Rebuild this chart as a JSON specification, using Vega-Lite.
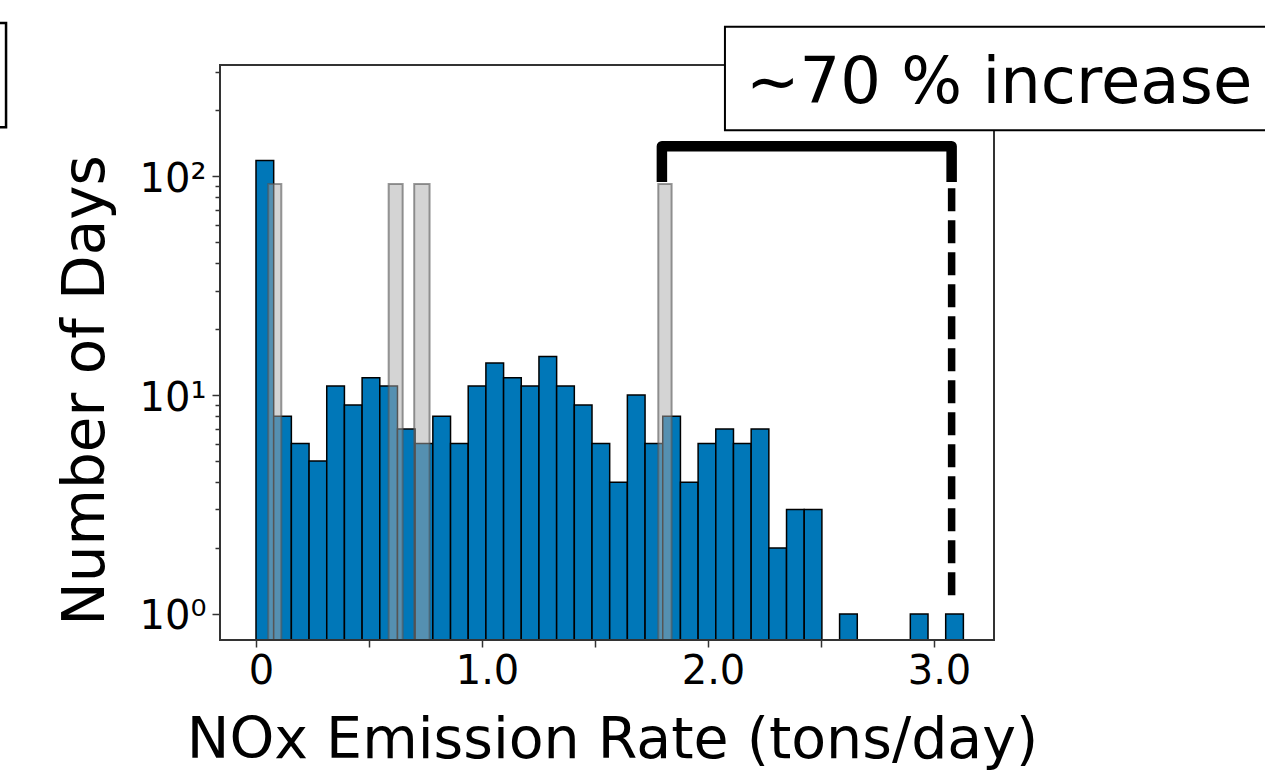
{
  "$schema": "https://vega.github.io/schema/vega-lite/v6.json",
  "width": 774,
  "height": 575,
  "autosize": {"type": "none"},
  "padding": {"left": 220, "top": 65, "right": 271, "bottom": 132},
  "background": "white",
  "config": {"view": {"stroke": null}, "font": "DejaVu Sans"},
  "datasets": {
    "current": [
      {"rate": 0.0, "rate2": 0.07825, "days": 118},
      {"rate": 0.07825, "rate2": 0.1565, "days": 8},
      {"rate": 0.1565, "rate2": 0.23475, "days": 6},
      {"rate": 0.23475, "rate2": 0.313, "days": 5},
      {"rate": 0.313, "rate2": 0.39125, "days": 11},
      {"rate": 0.39125, "rate2": 0.4695, "days": 9},
      {"rate": 0.4695, "rate2": 0.54775, "days": 12},
      {"rate": 0.54775, "rate2": 0.626, "days": 11},
      {"rate": 0.626, "rate2": 0.70425, "days": 7},
      {"rate": 0.70425, "rate2": 0.7825, "days": 6},
      {"rate": 0.7825, "rate2": 0.86075, "days": 8},
      {"rate": 0.86075, "rate2": 0.939, "days": 6},
      {"rate": 0.939, "rate2": 1.01725, "days": 11},
      {"rate": 1.01725, "rate2": 1.0955, "days": 14},
      {"rate": 1.0955, "rate2": 1.17375, "days": 12},
      {"rate": 1.17375, "rate2": 1.252, "days": 11},
      {"rate": 1.252, "rate2": 1.33025, "days": 15},
      {"rate": 1.33025, "rate2": 1.4085, "days": 11},
      {"rate": 1.4085, "rate2": 1.48675, "days": 9},
      {"rate": 1.48675, "rate2": 1.565, "days": 6},
      {"rate": 1.565, "rate2": 1.64325, "days": 4},
      {"rate": 1.64325, "rate2": 1.7215, "days": 10},
      {"rate": 1.7215, "rate2": 1.79975, "days": 6},
      {"rate": 1.79975, "rate2": 1.878, "days": 8},
      {"rate": 1.878, "rate2": 1.95625, "days": 4},
      {"rate": 1.95625, "rate2": 2.0345, "days": 6},
      {"rate": 2.0345, "rate2": 2.11275, "days": 7},
      {"rate": 2.11275, "rate2": 2.191, "days": 6},
      {"rate": 2.191, "rate2": 2.26925, "days": 7},
      {"rate": 2.26925, "rate2": 2.3475, "days": 2},
      {"rate": 2.3475, "rate2": 2.42575, "days": 3},
      {"rate": 2.42575, "rate2": 2.504, "days": 3},
      {"rate": 2.58225, "rate2": 2.6605, "days": 1},
      {"rate": 2.89525, "rate2": 2.9735, "days": 1},
      {"rate": 3.05175, "rate2": 3.13, "days": 1}
    ],
    "baseline": [
      {"rate": 0.054, "rate2": 0.112, "days": 92},
      {"rate": 0.587, "rate2": 0.649, "days": 92},
      {"rate": 0.700, "rate2": 0.768, "days": 92},
      {"rate": 1.780, "rate2": 1.839, "days": 92}
    ],
    "bracket": [
      {"rate": 1.796, "days": 94, "o": 0},
      {"rate": 1.796, "days": 137, "o": 1},
      {"rate": 3.078, "days": 137, "o": 2},
      {"rate": 3.078, "days": 94, "o": 3}
    ],
    "dash": [
      {"rate": 3.078, "days": 88, "o": 0},
      {"rate": 3.078, "days": 1.2, "o": 1}
    ]
  },
  "layer": [
    {
      "data": {"name": "current"},
      "mark": {"type": "bar", "fill": "#0077b8", "stroke": "black", "strokeWidth": 1.5, "clip": true},
      "encoding": {
        "x": {
          "field": "rate", "type": "quantitative",
          "scale": {"domain": [-0.1593, 3.2655], "nice": false, "zero": false},
          "axis": {
            "title": "NOx Emission Rate (tons/day)",
            "values": [0, 0.5, 1, 1.5, 2, 2.5, 3],
            "labelExpr": "datum.value == 0 ? '0' : (datum.value % 1 == 0 ? format(datum.value, '.1f') : '')",
            "domain": false, "grid": false,
            "tickSize": 7, "tickColor": "#333", "tickWidth": 1.5,
            "labelFont": "DejaVu Sans", "labelFontSize": 40, "labelColor": "black",
            "labelPadding": 4, "labelOffset": 5, "labelFlush": false, "labelOverlap": false,
            "titleFont": "DejaVu Sans", "titleFontSize": 57, "titleFontWeight": "normal", "titleColor": "black",
            "titleX": 392, "titleY": 117, "titleBaseline": "alphabetic", "titleAlign": "center"
          }
        },
        "x2": {"field": "rate2"},
        "y": {
          "field": "days", "type": "quantitative",
          "scale": {"type": "log", "domain": [0.76, 322], "nice": false},
          "axis": {
            "title": "Number of Days",
            "values": [1, 2, 3, 4, 5, 6, 7, 8, 9, 10, 20, 30, 40, 50, 60, 70, 80, 90, 100, 200, 300],
            "labelExpr": "datum.value == 1 ? '10⁰' : (datum.value == 10 ? '10¹' : (datum.value == 100 ? '10²' : ''))",
            "domain": false, "grid": false,
            "tickSize": {"condition": {"test": "datum.value == 1 || datum.value == 10 || datum.value == 100", "value": 8}, "value": 5},
            "tickColor": "#333", "tickWidth": 1.5,
            "labelFont": "DejaVu Sans", "labelFontSize": 40, "labelColor": "black",
            "labelPadding": 6, "labelOffset": 3, "labelFlush": false, "labelOverlap": false,
            "titleFont": "DejaVu Sans", "titleFontSize": 58, "titleFontWeight": "normal", "titleColor": "black",
            "titleX": -117, "titleY": 325, "titleBaseline": "alphabetic", "titleAlign": "center", "titleAngle": -90
          }
        },
        "y2": {"datum": 0.1}
      }
    },
    {
      "data": {"name": "baseline"},
      "mark": {"type": "bar", "fill": "#a9a9a9", "fillOpacity": 0.5, "stroke": "#555555", "strokeOpacity": 0.6, "strokeWidth": 2, "clip": true},
      "encoding": {
        "x": {"field": "rate", "type": "quantitative", "scale": {"domain": [-0.1593, 3.2655], "nice": false, "zero": false}},
        "x2": {"field": "rate2"},
        "y": {"field": "days", "type": "quantitative", "scale": {"type": "log", "domain": [0.76, 322], "nice": false}},
        "y2": {"datum": 0.1}
      }
    },
    {
      "data": {"values": [{}]},
      "mark": {"type": "rect", "filled": false, "stroke": "#333333", "strokeWidth": 2, "clip": false},
      "encoding": {
        "x": {"datum": -0.1593, "type": "quantitative"},
        "x2": {"datum": 3.2655},
        "y": {"datum": 0.76, "type": "quantitative"},
        "y2": {"datum": 322}
      }
    },
    {
      "data": {"name": "bracket"},
      "mark": {"type": "line", "stroke": "black", "strokeWidth": 10.5, "strokeJoin": "round", "strokeCap": "butt", "clip": false},
      "encoding": {
        "x": {"field": "rate", "type": "quantitative"},
        "y": {"field": "days", "type": "quantitative"},
        "order": {"field": "o", "type": "quantitative"}
      }
    },
    {
      "data": {"name": "dash"},
      "mark": {"type": "line", "stroke": "black", "strokeWidth": 7.5, "strokeDash": [23, 9], "strokeCap": "butt", "clip": false},
      "encoding": {
        "x": {"field": "rate", "type": "quantitative"},
        "y": {"field": "days", "type": "quantitative"},
        "order": {"field": "o", "type": "quantitative"}
      }
    },
    {
      "data": {"values": [{}]},
      "mark": {"type": "rect", "fill": "white", "stroke": "black", "strokeWidth": 2, "clip": false},
      "encoding": {
        "x": {"datum": 2.075, "type": "quantitative"},
        "x2": {"datum": 4.6},
        "y": {"datum": 481, "type": "quantitative"},
        "y2": {"datum": 162}
      }
    },
    {
      "data": {"values": [{}]},
      "mark": {"type": "text", "text": "~70 % increase", "font": "DejaVu Sans", "fontSize": 64, "align": "left", "baseline": "alphabetic", "color": "black", "clip": false},
      "encoding": {
        "x": {"datum": 2.168, "type": "quantitative"},
        "y": {"datum": 216, "type": "quantitative"}
      }
    },
    {
      "data": {"values": [{}]},
      "mark": {"type": "rect", "filled": false, "stroke": "black", "strokeWidth": 2.5, "clip": false},
      "encoding": {
        "x": {"datum": -3, "type": "quantitative"},
        "x2": {"datum": -1.106},
        "y": {"datum": 501, "type": "quantitative"},
        "y2": {"datum": 167.5}
      }
    }
  ]
}
